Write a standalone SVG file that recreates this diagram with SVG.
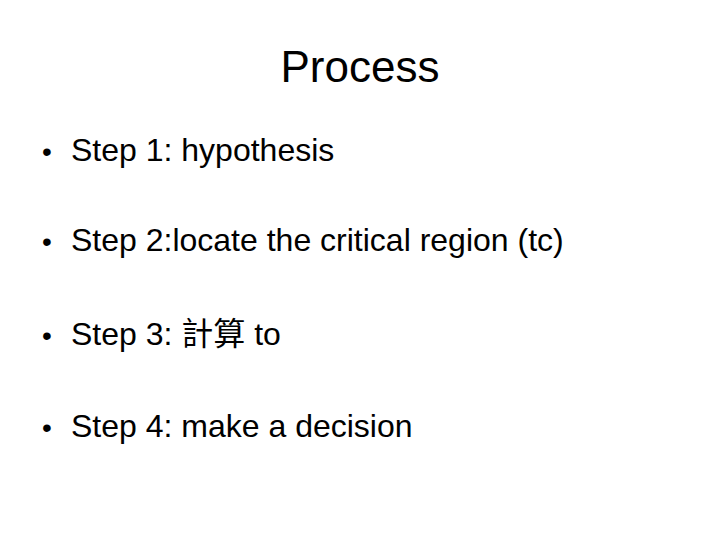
<svg xmlns="http://www.w3.org/2000/svg" width="720" height="540" viewBox="0 0 720 540">
<style>
text{font-family:"Liberation Sans","Noto Sans CJK TC",sans-serif;fill:#000}
.b{font-size:32px}
</style>
<rect width="720" height="540" fill="#fff"/>
<text x="360" y="82" font-size="44" text-anchor="middle">Process</text>
<g class="b">
<text x="42" y="161" font-size="28">•</text><text x="71" y="161">Step 1: hypothesis</text>
<text x="42" y="251" font-size="28">•</text><text x="71" y="251">Step 2:locate the critical region (tc)</text>
<text x="42" y="345" font-size="28">•</text><text x="71" y="345">Step 3: 計算 to</text>
<text x="42" y="437" font-size="28">•</text><text x="71" y="437">Step 4: make a decision</text>
</g>
</svg>
